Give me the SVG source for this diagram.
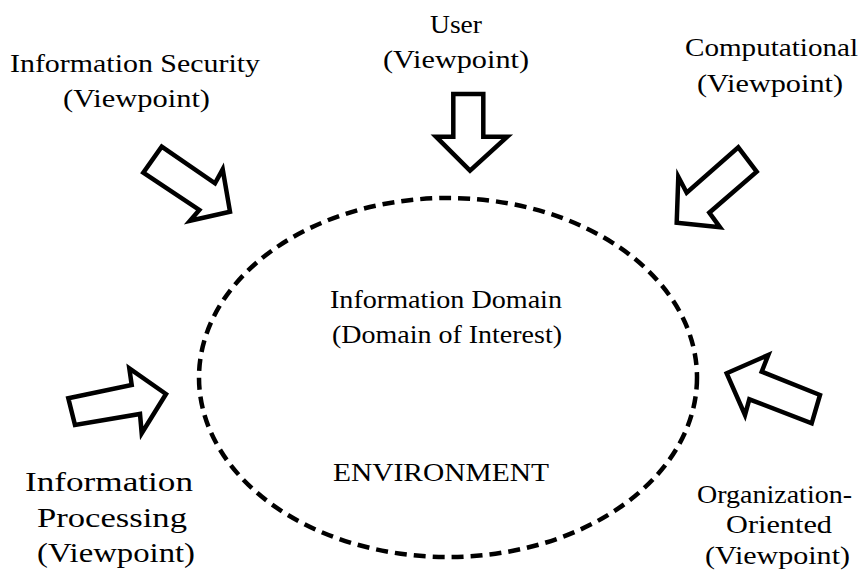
<svg xmlns="http://www.w3.org/2000/svg" width="861" height="577" viewBox="0 0 861 577">
<style>
text{font-family:"Liberation Serif","Times New Roman",serif;font-size:26px;fill:#000;text-anchor:middle}
.big{font-size:27.5px}
.arr{fill:#fff;stroke:#000;stroke-width:4.5;stroke-linejoin:miter}
.env{fill:none;stroke:#000;stroke-width:4.5;stroke-dasharray:12 7}
</style>
<rect width="861" height="577" fill="#fff"/>
<g id="domain">
<ellipse class="env" cx="448" cy="377.5" rx="249" ry="179.5"/>
<text x="446" y="308" textLength="232" lengthAdjust="spacingAndGlyphs">Information Domain</text>
<text x="447" y="343" textLength="230" lengthAdjust="spacingAndGlyphs">(Domain of Interest)</text>
<text x="441" y="481" textLength="216" lengthAdjust="spacingAndGlyphs">ENVIRONMENT</text>
</g>
<g id="connectors">
<polygon class="arr" points="161.7,146.7 215,183.3 222.7,169.3 230,211.7 190,220.7 199.3,210 143.3,172.7"/>
<polygon class="arr" points="453.3,94 483.3,94 483.3,136.7 507.3,136.7 470,170.7 436,136.7 453.3,136.7"/>
<polygon class="arr" points="738.3,147.3 756.7,171.7 709.3,212.7 720,227.3 676.7,222.7 678.3,176.7 686.7,192.7"/>
<polygon class="arr" points="68.3,398.3 131.7,385 129.3,368.3 166,394 141.7,433.3 140,414 75,425"/>
<polygon class="arr" points="726.7,373.3 768.3,355 761.7,371.7 820,395 811.7,423.3 749.3,399.3 745,415"/>
</g>
<g id="security">
<text x="135" y="72" textLength="250" lengthAdjust="spacingAndGlyphs">Information Security</text>
<text x="136.5" y="107" textLength="147" lengthAdjust="spacingAndGlyphs">(Viewpoint)</text>
</g>
<g id="user">
<text x="456" y="33" textLength="52" lengthAdjust="spacingAndGlyphs">User</text>
<text x="456" y="68" textLength="146" lengthAdjust="spacingAndGlyphs">(Viewpoint)</text>
</g>
<g id="computational">
<text x="771.5" y="56" textLength="173" lengthAdjust="spacingAndGlyphs">Computational</text>
<text x="770" y="92" textLength="146" lengthAdjust="spacingAndGlyphs">(Viewpoint)</text>
</g>
<g id="processing">
<text class="big" x="109" y="491" textLength="168" lengthAdjust="spacingAndGlyphs">Information</text>
<text class="big" x="112" y="527" textLength="150" lengthAdjust="spacingAndGlyphs">Processing</text>
<text class="big" x="116" y="562" textLength="158" lengthAdjust="spacingAndGlyphs">(Viewpoint)</text>
</g>
<g id="organization">
<text x="774.5" y="503" textLength="155" lengthAdjust="spacingAndGlyphs">Organization-</text>
<text x="779" y="533" textLength="106" lengthAdjust="spacingAndGlyphs">Oriented</text>
<text x="777.5" y="564" textLength="145" lengthAdjust="spacingAndGlyphs">(Viewpoint)</text>
</g>
</svg>
